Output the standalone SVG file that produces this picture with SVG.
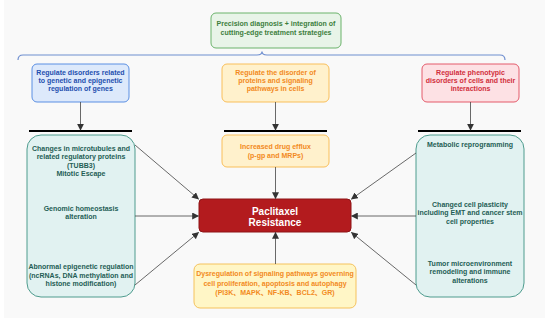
<svg xmlns="http://www.w3.org/2000/svg" width="550" height="325" viewBox="0 0 550 325">
<defs>
<marker id="ah" viewBox="0 0 10 10" refX="9" refY="5" markerWidth="7" markerHeight="7" markerUnits="userSpaceOnUse" orient="auto">
<path d="M0,0 L10,5 L0,10 z" fill="#333"/>
</marker>
<style>
text{font-family:"Liberation Sans","Noto Sans CJK SC",Arial,sans-serif;font-weight:bold;font-size:7px;text-anchor:middle;dominant-baseline:central}
.con{stroke:#444;stroke-width:0.8;fill:none;marker-end:url(#ah)}
.bar{stroke:#000;stroke-width:2.2}
.green rect{fill:#e8f4e8;stroke:#6bb36b;stroke-width:1}
.green text{fill:#3d7e3d}
.blue rect{fill:#dde9fb;stroke:#5a8fe3;stroke-width:1}
.blue text{fill:#1f4fae}
.orange rect{fill:#fff1cc;stroke:#f9bf5a;stroke-width:1}
.orange text{fill:#f28a22}
.yellow rect{fill:#fff6c6;stroke:#f5c25c;stroke-width:1}
.pink rect{fill:#fde1e4;stroke:#e45b6b;stroke-width:1}
.pink text{fill:#d12f3c}
.teal rect{fill:#e1f2f1;stroke:#4f9c8e;stroke-width:1}
.teal text{fill:#1f5e55}
.red rect{fill:#b31b1e;stroke:#8e1416;stroke-width:1}
.red text{fill:#fff;font-size:10px}
</style>
</defs>
<rect x="0" y="0" width="550" height="325" fill="#fff"/>
<rect x="4" y="0" width="541" height="318" fill="#f9f9f9"/>

<g id="top" class="green">
<rect x="211" y="13" width="130" height="35" rx="5"/>
<text x="276" y="23">Precision diagnosis + integration of</text>
<text x="276" y="32">cutting-edge treatment strategies</text>
</g>

<g id="brace">
<path d="M18,60 Q18,55 23,55 L257,55 Q262,55 262,51.5 Q262,55 267,55 L500,55 Q505,55 505,60" fill="none" stroke="#6f8fd0" stroke-width="1.2"/>
</g>

<g id="genetic" class="blue">
<rect x="32" y="64" width="97" height="38" rx="5"/>
<text x="80.5" y="72">Regulate disorders related</text>
<text x="80.5" y="80">to genetic and epigenetic</text>
<text x="80.5" y="88">regulation of genes</text>
</g>

<g id="proteins" class="orange">
<rect x="222" y="64" width="107" height="38" rx="5"/>
<text x="275.5" y="72">Regulate the disorder of</text>
<text x="275.5" y="80">proteins and signaling</text>
<text x="275.5" y="88">pathways in cells</text>
</g>

<g id="phenotypic" class="pink">
<rect x="422" y="64" width="97" height="38" rx="5"/>
<text x="470.5" y="72">Regulate phenotypic</text>
<text x="470.5" y="80">disorders of cells and their</text>
<text x="470.5" y="88">interactions</text>
</g>

<g id="bars">
<line class="bar" x1="29" y1="131" x2="132" y2="131"/>
<line class="bar" x1="224" y1="131" x2="327" y2="131"/>
<line class="bar" x1="418" y1="131" x2="521" y2="131"/>
</g>

<g id="leftbox" class="teal">
<rect x="27" y="135" width="108" height="162" rx="14"/>
<text x="81" y="148">Changes in microtubules and</text>
<text x="81" y="156.5">related regulatory proteins</text>
<text x="81" y="165">(TUBB3)</text>
<text x="81" y="173.5">Mitotic Escape</text>
<text x="81" y="208">Genomic homeostasis</text>
<text x="81" y="216.5">alteration</text>
<text x="81" y="266.5">Abnormal epigenetic regulation</text>
<text x="81" y="275">(ncRNAs, DNA methylation and</text>
<text x="81" y="283.5">histone modification)</text>
</g>

<g id="rightbox" class="teal">
<rect x="416" y="135" width="108" height="162" rx="14"/>
<text x="470" y="144">Metabolic reprogramming</text>
<text x="470" y="204">Changed cell plasticity</text>
<text x="470" y="212.5">including EMT and cancer stem</text>
<text x="470" y="221">cell properties</text>
<text x="470" y="263">Tumor microenvironment</text>
<text x="470" y="271.5">remodeling and immune</text>
<text x="470" y="280">alterations</text>
</g>

<g id="efflux" class="orange">
<rect x="222" y="135" width="107" height="32" rx="5"/>
<text x="275.5" y="146">Increased drug efflux</text>
<text x="275.5" y="155">(p-gp and MRPs)</text>
</g>

<g id="resistance" class="red">
<rect x="199" y="199" width="152" height="33" rx="4"/>
<text x="275" y="211">Paclitaxel</text>
<text x="275" y="222">Resistance</text>
</g>

<g id="signaling" class="yellow orange">
<rect x="194" y="264" width="162" height="44" rx="6" style="fill:#fff6c6;stroke:#f5c25c"/>
<text x="275" y="273.5">Dysregulation of signaling pathways governing</text>
<text x="275" y="283">cell proliferation, apoptosis and autophagy</text>
<text x="275" y="292">(PI3K、MAPK、NF-KB、BCL2、GR)</text>
</g>

<g id="connectors">
<line class="con" x1="80.5" y1="102" x2="80.5" y2="130"/>
<line class="con" x1="275.5" y1="102" x2="275.5" y2="130"/>
<line class="con" x1="470.5" y1="102" x2="470.5" y2="130"/>
<line class="con" x1="275.5" y1="167" x2="275.5" y2="198.5"/>
<line class="con" x1="275.5" y1="264" x2="275.5" y2="232.5"/>
<line class="con" x1="135" y1="145" x2="198.5" y2="199"/>
<line class="con" x1="135" y1="216" x2="198.5" y2="216"/>
<line class="con" x1="135" y1="285" x2="198.5" y2="232.5"/>
<line class="con" x1="416" y1="153" x2="351.5" y2="199"/>
<line class="con" x1="416" y1="216" x2="351.5" y2="216"/>
<line class="con" x1="416" y1="285" x2="351.5" y2="232.5"/>
</g>
</svg>
